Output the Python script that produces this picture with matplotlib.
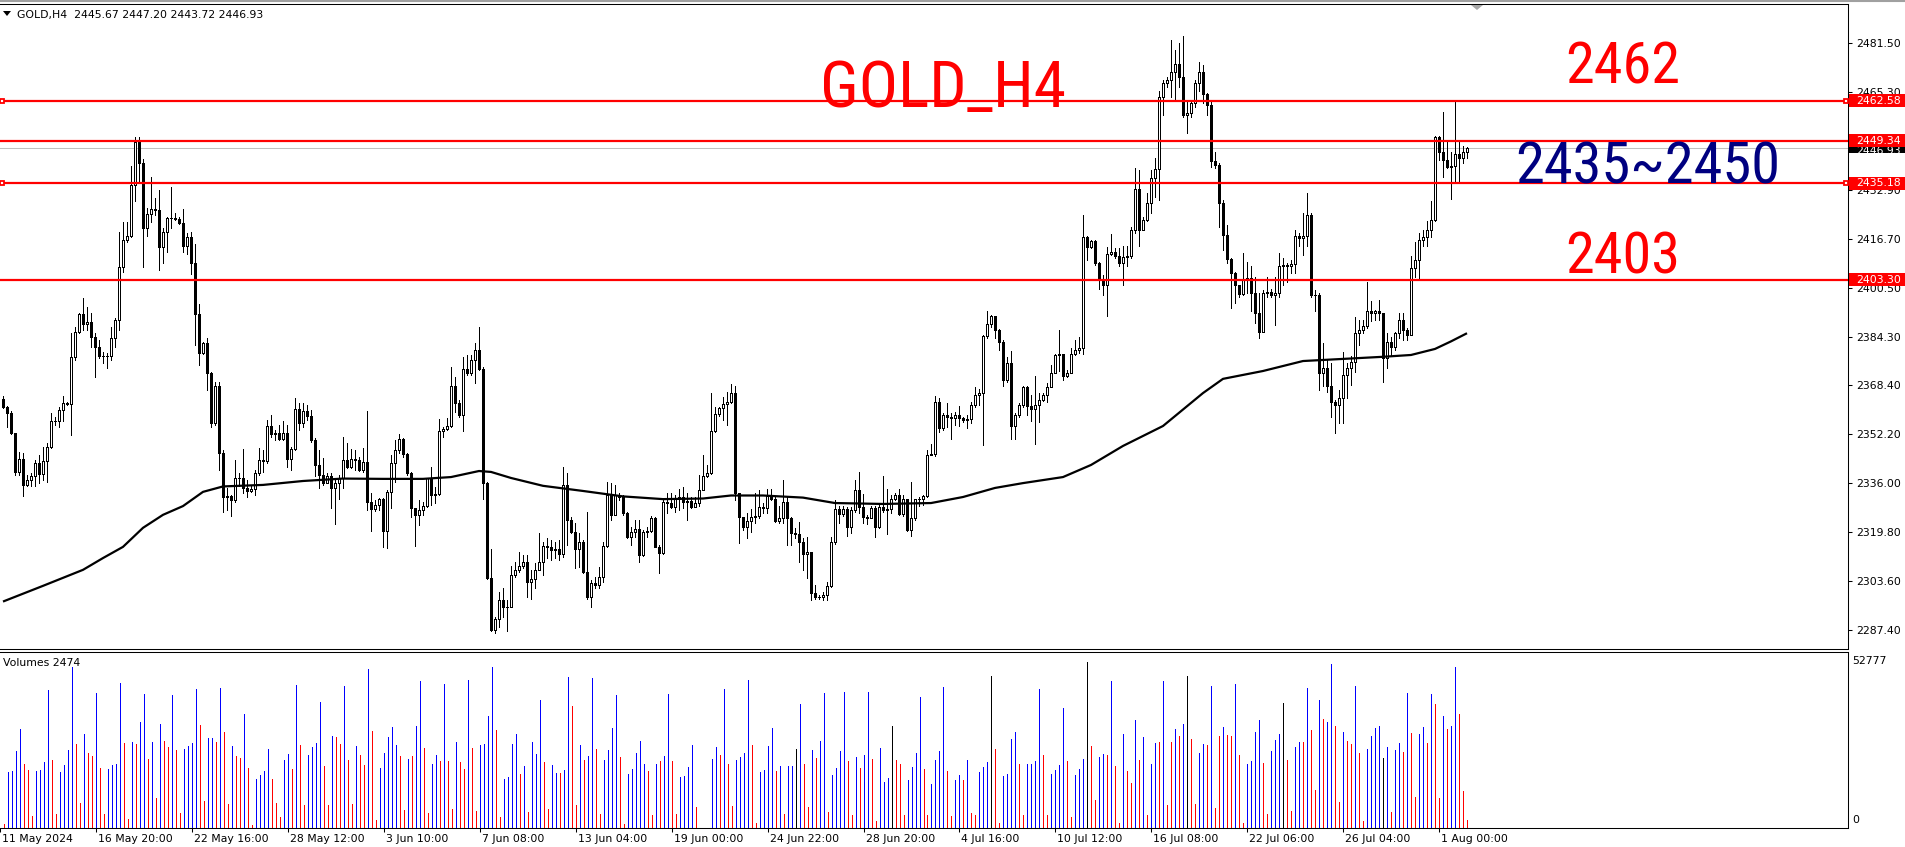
import matplotlib
matplotlib.use("Agg")
import matplotlib.pyplot as plt
import numpy as np
from matplotlib.patches import Rectangle, Polygon
from matplotlib.lines import Line2D
from matplotlib import font_manager as fm
import matplotlib.transforms as mtransforms

W, H = 1905, 847

# ---------------- data ----------------
symbol_header = "GOLD,H4  2445.67 2447.20 2443.72 2446.93"
volume_header = "Volumes 2474"
first_open = 2363.7

close = [
2361.3,2359.1,2352.5,2339.8,2343.9,2335.4,2337.1,2338.2,2342.8,2339.0,
2343.4,2347.9,2356.4,2356.6,2360.2,2362.4,2362.2,2377.6,2386.1,2391.9,
2388.7,2389.3,2384.5,2381.2,2377.9,2378.1,2377.9,2383.9,2390.0,2407.6,
2416.5,2417.8,2434.7,2449.0,2441.8,2420.3,2425.0,2426.6,2426.4,2414.0,
2419.2,2423.6,2423.7,2423.4,2422.0,2414.3,2417.4,2408.8,2392.0,2379.0,
2382.3,2372.4,2356.0,2368.2,2346.1,2331.3,2331.8,2330.4,2337.6,2337.8,
2334.3,2333.5,2334.0,2339.5,2343.7,2343.4,2354.9,2352.2,2352.5,2350.5,
2352.7,2343.9,2347.2,2360.4,2356.0,2359.7,2358.2,2350.3,2342.0,2338.7,
2336.0,2338.4,2334.3,2336.0,2337.6,2343.7,2341.2,2343.9,2343.7,2340.4,
2343.1,2329.6,2327.3,2328.8,2330.7,2320.0,2333.2,2342.6,2347.0,2350.5,
2345.5,2339.2,2327.6,2325.4,2327.1,2328.4,2337.6,2332.0,2332.3,2353.3,
2353.8,2354.9,2368.3,2362.6,2358.5,2373.9,2372.3,2376.7,2380.0,2373.6,
2336.1,2304.5,2287.4,2290.9,2297.3,2295.1,2294.9,2305.6,2307.2,2308.5,
2310.0,2303.4,2304.1,2307.2,2310.0,2315.2,2314.7,2313.8,2314.1,2312.7,
2335.3,2323.8,2319.9,2314.1,2316.6,2306.7,2298.4,2303.0,2302.3,2305.0,
2315.2,2332.0,2325.4,2332.0,2331.5,2326.0,2318.3,2319.9,2320.7,2312.2,
2319.9,2320.2,2324.3,2314.9,2313.0,2329.8,2329.3,2328.0,2330.9,2331.5,
2329.8,2330.2,2328.0,2329.3,2333.7,2338.3,2339.2,2353.3,2358.8,2360.9,
2362.2,2362.9,2365.9,2332.6,2324.9,2321.6,2323.4,2324.9,2325.1,2328.0,
2327.7,2331.7,2330.9,2323.5,2324.6,2329.8,2324.3,2319.4,2319.1,2316.6,
2312.7,2313.3,2299.5,2298.4,2298.2,2298.9,2301.9,2316.6,2327.3,2325.7,
2327.3,2321.6,2327.1,2333.7,2328.2,2324.9,2324.6,2327.6,2321.6,2328.0,
2327.1,2327.3,2330.6,2332.0,2325.7,2330.6,2320.5,2324.3,2330.6,2330.9,
2331.7,2345.3,2345.6,2362.9,2354.1,2358.5,2358.0,2357.7,2358.5,2357.4,
2356.9,2357.1,2361.8,2365.1,2365.7,2384.7,2388.6,2391.3,2386.6,2382.8,
2370.1,2375.6,2354.9,2358.5,2361.8,2367.7,2361.5,2360.4,2361.8,2363.5,
2365.1,2367.9,2372.5,2378.3,2378.7,2371.4,2372.5,2378.7,2380.0,2380.6,
2417.3,2414.2,2416.2,2408.7,2403.7,2401.5,2411.8,2412.6,2411.2,2408.8,
2410.7,2411.0,2419.8,2433.2,2419.8,2423.1,2428.8,2436.9,2439.9,2463.9,
2468.5,2469.4,2472.2,2474.7,2470.3,2457.8,2458.4,2461.7,2468.3,2472.2,
2464.8,2461.2,2442.7,2441.3,2428.8,2418.1,2410.1,2405.5,2401.6,2398.6,
2403.2,2403.8,2398.8,2392.2,2386.1,2398.8,2399.1,2398.4,2398.8,2407.9,
2408.2,2407.7,2408.4,2417.8,2417.0,2417.8,2424.8,2398.3,2398.3,2372.4,
2374.2,2368.0,2363.0,2361.9,2364.1,2371.8,2374.0,2376.2,2385.6,2386.7,
2388.0,2392.8,2392.2,2392.8,2392.2,2377.3,2382.8,2381.2,2385.6,2390.0,
2386.7,2385.0,2407.1,2409.9,2416.5,2417.4,2419.8,2423.1,2450.7,2445.7,
2443.0,2440.7,2441.0,2444.9,2443.5,2445.67,2446.93]

high = [
2364.9,2361.5,2359.7,2352.7,2346.4,2345.9,2338.7,2339.3,2343.7,2345.3,
2348.1,2349.2,2359.3,2358.0,2361.3,2364.9,2363.0,2385.6,2387.8,2392.2,
2397.2,2394.4,2392.2,2385.6,2383.4,2379.5,2379.0,2387.8,2390.6,2419.0,
2422.5,2422.5,2441.0,2450.4,2450.4,2443.2,2427.0,2437.4,2430.3,2433.0,
2420.3,2424.2,2433.9,2425.3,2424.2,2426.6,2418.7,2419.2,2415.1,2395.3,
2382.8,2383.9,2372.9,2369.6,2369.6,2347.0,2334.3,2332.1,2343.7,2339.3,
2347.2,2337.1,2335.1,2340.4,2347.5,2347.0,2356.9,2358.6,2353.6,2355.3,
2356.4,2355.3,2348.1,2364.1,2362.4,2362.4,2361.9,2360.2,2350.8,2347.0,
2344.2,2339.5,2339.3,2337.1,2338.7,2351.4,2349.2,2347.2,2346.8,2344.8,
2347.5,2359.7,2332.6,2330.4,2331.0,2331.0,2333.7,2345.3,2350.3,2352.4,
2350.8,2345.8,2339.6,2327.6,2330.4,2329.8,2337.6,2341.4,2334.8,2357.1,
2354.7,2357.4,2374.5,2371.2,2363.5,2377.8,2378.4,2378.4,2382.2,2387.7,
2374.5,2336.4,2314.1,2291.6,2300.1,2301.2,2297.3,2308.5,2310.0,2313.3,
2312.2,2312.2,2307.2,2309.4,2319.6,2316.6,2317.7,2317.1,2316.6,2317.1,
2341.4,2339.2,2324.9,2322.7,2319.4,2317.1,2326.5,2303.9,2305.0,2308.3,
2316.6,2336.4,2335.9,2335.3,2332.6,2332.0,2326.5,2321.6,2323.8,2323.8,
2320.5,2321.6,2325.1,2324.9,2315.5,2330.4,2332.6,2332.6,2332.0,2334.2,
2334.8,2332.6,2331.3,2331.5,2338.7,2345.3,2342.0,2365.7,2361.3,2361.3,
2364.6,2366.2,2368.8,2368.1,2332.6,2322.7,2326.0,2327.3,2332.6,2333.7,
2329.3,2333.9,2334.2,2331.7,2328.4,2337.0,2331.5,2324.9,2321.0,2323.2,
2317.7,2318.0,2313.3,2302.3,2298.9,2300.0,2303.4,2318.0,2330.4,2328.4,
2328.4,2328.2,2328.2,2337.0,2339.8,2332.4,2325.4,2328.4,2328.4,2329.3,
2338.3,2334.2,2332.0,2332.6,2333.9,2332.0,2330.9,2336.5,2330.9,2331.5,
2332.0,2346.9,2349.1,2364.8,2364.0,2359.1,2362.4,2359.1,2359.6,2361.5,
2358.0,2358.5,2362.9,2367.7,2367.3,2385.0,2392.9,2391.6,2388.8,2386.9,
2383.3,2377.8,2379.7,2359.1,2362.4,2368.1,2368.1,2365.1,2371.4,2365.7,
2365.9,2369.2,2375.1,2378.7,2386.6,2378.7,2373.4,2380.6,2383.3,2384.4,
2424.7,2417.7,2416.6,2416.4,2409.2,2404.8,2414.0,2418.4,2413.7,2413.7,
2414.3,2414.3,2420.9,2440.2,2439.6,2424.2,2431.9,2439.6,2443.5,2465.6,
2469.4,2470.5,2482.7,2479.4,2481.6,2484.0,2462.8,2462.3,2469.4,2475.5,
2474.4,2465.0,2462.3,2445.7,2441.8,2429.7,2421.4,2410.4,2406.0,2399.9,
2412.1,2409.3,2407.7,2404.3,2398.8,2399.9,2404.3,2400.2,2404.3,2412.1,
2410.4,2408.8,2409.9,2419.8,2418.7,2425.3,2431.9,2425.3,2399.9,2398.8,
2382.3,2376.8,2375.7,2363.5,2366.9,2379.5,2375.7,2377.9,2391.1,2390.0,
2390.0,2402.7,2396.1,2393.3,2396.6,2392.2,2385.6,2384.5,2386.1,2392.2,
2392.2,2387.2,2411.0,2415.9,2418.7,2419.8,2422.6,2429.2,2450.9,2450.9,
2458.9,2449.0,2445.7,2462.8,2449.0,2447.6,2447.20]

low = [
2360.8,2354.7,2352.3,2338.7,2338.7,2331.8,2334.9,2334.9,2334.9,2336.0,
2337.1,2336.5,2347.5,2355.3,2354.7,2356.4,2361.9,2352.0,2376.8,2385.6,
2386.7,2386.7,2381.2,2371.0,2377.3,2375.7,2374.0,2376.8,2381.2,2386.7,
2405.7,2415.9,2417.6,2429.2,2435.2,2407.6,2417.8,2422.5,2424.7,2406.5,
2408.7,2412.6,2420.3,2423.1,2421.8,2412.6,2411.8,2405.2,2381.7,2375.1,
2378.8,2366.8,2354.7,2355.3,2340.4,2326.6,2327.1,2325.1,2329.9,2334.9,
2332.6,2331.5,2333.2,2332.1,2338.7,2339.8,2342.6,2351.4,2350.3,2350.3,
2350.3,2341.2,2340.4,2347.0,2353.6,2354.7,2356.9,2349.7,2338.2,2334.3,
2335.4,2336.0,2327.7,2322.5,2330.7,2334.3,2340.9,2340.9,2340.4,2340.1,
2339.8,2327.1,2320.0,2326.9,2327.1,2315.0,2314.4,2327.7,2336.5,2345.8,
2344.7,2338.7,2324.9,2315.3,2322.1,2325.4,2328.2,2328.7,2329.3,2332.0,
2351.3,2353.5,2354.7,2359.6,2358.0,2353.3,2371.7,2371.7,2369.2,2373.4,
2330.6,2304.1,2287.1,2286.3,2288.5,2291.8,2287.1,2294.9,2305.0,2306.7,
2307.8,2298.4,2297.5,2301.2,2307.2,2305.6,2311.1,2310.5,2311.1,2310.5,
2311.6,2315.5,2319.4,2307.8,2308.3,2306.1,2297.8,2295.1,2301.2,2301.2,
2303.4,2314.9,2323.8,2325.4,2330.4,2325.4,2317.7,2315.5,2318.3,2310.0,
2311.8,2318.3,2319.9,2314.7,2306.1,2312.7,2326.0,2327.6,2326.5,2327.1,
2327.6,2323.8,2327.6,2328.0,2328.4,2333.7,2338.1,2339.0,2353.0,2358.2,
2356.9,2355.2,2362.6,2330.4,2316.3,2320.5,2317.7,2319.9,2322.7,2324.6,
2326.0,2326.0,2330.4,2323.2,2322.7,2322.7,2315.5,2315.5,2317.7,2310.0,
2307.2,2304.5,2297.3,2297.5,2297.5,2297.3,2297.3,2301.7,2315.8,2322.7,
2325.1,2318.5,2319.4,2326.5,2326.0,2322.7,2322.4,2324.3,2318.3,2321.3,
2326.5,2319.1,2326.2,2330.4,2325.4,2325.1,2320.2,2318.5,2323.8,2328.4,
2328.7,2331.5,2345.3,2344.9,2353.0,2353.5,2354.7,2350.5,2355.2,2354.9,
2356.3,2354.1,2356.0,2361.3,2361.8,2348.6,2383.9,2387.7,2383.9,2380.0,
2368.1,2369.5,2350.5,2350.5,2357.9,2361.3,2358.5,2356.6,2348.9,2356.3,
2363.3,2362.9,2367.7,2372.3,2373.2,2370.1,2371.2,2372.3,2378.3,2378.9,
2378.7,2409.8,2413.7,2408.1,2400.4,2398.2,2391.3,2411.5,2410.4,2407.7,
2401.6,2407.7,2410.4,2418.7,2414.3,2419.8,2422.6,2425.3,2430.8,2429.7,
2457.8,2467.0,2463.9,2462.8,2467.0,2457.3,2451.8,2457.3,2460.6,2465.6,
2461.7,2457.8,2440.7,2440.2,2420.9,2413.2,2408.8,2393.9,2395.5,2397.7,
2398.3,2398.8,2392.8,2388.9,2383.9,2386.1,2397.7,2397.7,2388.3,2397.7,
2401.6,2402.7,2405.5,2405.5,2414.3,2411.5,2414.3,2397.7,2392.8,2366.9,
2368.0,2366.3,2358.0,2352.5,2355.8,2355.8,2364.1,2368.5,2372.9,2381.7,
2385.6,2387.3,2389.5,2390.0,2390.0,2369.6,2374.0,2377.9,2380.1,2384.0,
2383.4,2383.4,2385.0,2404.3,2403.8,2414.3,2414.3,2417.6,2422.6,2443.0,
2437.4,2440.2,2429.9,2435.8,2436.1,2441.9,2443.72]

# long moving average read at sample bars
ma_bar = [0,10,20,25,30,35,40,45,50,55,65,75,85,95,105,112,119,122,127,135,145,155,
          165,175,182,190,200,208,220,232,240,248,255,265,272,280,290,300,305,315,325,
          335,345,352,358,362,366]
ma_val = [2296.8,2302.0,2307.3,2311.2,2314.9,2321.2,2325.5,2328.4,2333.1,2334.9,2335.4,
          2336.7,2337.5,2337.4,2337.4,2338.0,2340.0,2339.7,2337.7,2335.1,2333.4,2331.6,
          2330.7,2330.9,2331.9,2331.9,2331.2,2329.4,2329.1,2329.4,2331.4,2334.4,2336.0,
          2338.0,2342.0,2348.3,2354.9,2365.8,2370.5,2373.1,2376.4,2377.1,2377.8,2378.4,
          2380.4,2382.9,2385.6]

# tick volumes (thousands): part from the left edge, part ending at the last bar
vol_a = [
1.4,17.7,18.2,24.6,31.6,20.5,18.6,3.9,18.2,18.6,21.1,44.0,21.7,4.6,17.9,20.1,24.9,51.2,26.8,8.1,
30.0,24.0,23.0,43.0,19.2,4.6,18.9,20.1,20.5,46.2,27.1,3.0,27.5,26.8,33.8,42.7,22.0,27.5,9.6,33.2,
27.8,25.9,42.4,24.9,4.9,25.2,26.2,27.1,44.3,32.9,8.7,28.7,28.7,27.5,44.6,30.6,7.7,26.2,23.0,22.4,
36.4,19.2,1.1,15.7,17.0,18.2,25.2,15.7,8.1,3.6,21.7,23.6,18.9,45.6,26.5,7.4,23.3,25.9,27.1,40.2,
19.8,7.4,29.4,29.0,26.8,45.3,21.7,7.7,26.2,23.3,20.1,50.7,31.0,2.7,19.2,24.0,29.0,32.2,26.5,23.0,
5.8,22.0,23.0,32.5,46.9,25.5,4.8,20.5,23.3,21.4,45.9,21.4,6.1,27.5,21.1,18.9,47.2,25.5,5.5,26.5,
26.8,35.7,51.2,31.3,3.6,15.7,16.3,26.8,30.0,17.3,19.8,5.2,27.5,23.6,40.8,21.1,6.1,20.1,17.6,17.6,
18.6,48.1,38.9,7.4,26.5,21.7,23.0,47.8,25.2,4.6,21.7,24.9,31.9,42.4,22.7,1.4,17.3,18.9,24.0,27.8,
20.5,18.2,4.2,20.5,21.4,23.0,42.7,21.4,4.6,16.3,16.6,19.5,26.5,6.8]
col_a = ("rbbbbrrrbb" "bbrrbbbbrr" "brrbrrbbbb" "rrbrbbrbrb" "rrbrrbbbbr" "rbbrbrrbrr"
         "brrbbbbrrr" "bbrbrrbbbb" "rrbrrbrrbr" "rbrrbbbbbr" "rbrbbrrbbr" "brrbrrbrrb"
         "bbbrrbbbbr" "brbbbrrbbr" "bbrrbrbbrr" "bbbbrrbbbb" "brrbrbbrrb" "bbbr")
vol_b = [
22.0,25.9,23.3,44.3,20.5,7.1,21.7,22.7,24.0,47.2,26.5,1.7,17.9,18.6,26.2,31.9,18.2,19.8,4.6,19.8,
19.8,25.2,39.5,20.5,6.8,24.9,22.4,27.8,43.0,5.2,17.0,19.2,24.6,43.4,21.4,4.2,22.7,19.2,23.3,43.4,
22.0,2.3,25.5,14.7,16.0,32.3,21.7,20.5,4.2,15.4,19.5,24.0,41.8,18.9,4.2,14.1,21.7,24.6,44.9,18.2,
3.9,15.4,17.0,15.4,21.7,4.9,4.2,17.9,19.5,21.1,48.4,25.2,1.7,16.6,17.3,28.4,30.6,20.5,4.2,20.5,
20.5,21.4,44.3,23.3,4.2,17.3,18.6,20.1,38.3,21.4,3.6,17.0,18.9,22.0,52.9,26.2,9.0,22.7,23.6,23.3,
46.9,19.8,1.7,29.8,18.2,14.4,34.5,21.7,29.0,4.2,20.5,27.1,27.5,46.9,7.4,27.5,31.6,29.4,33.2,48.4,
28.4,7.7,24.0,26.8,26.5,45.3,6.5,29.4,32.1,29.7,29.4,45.9,23.3,1.7,20.5,21.4,30.6,34.5,20.8,4.6,
24.6,28.1,30.0,39.9,21.7,5.5,25.9,27.5,27.5,44.6,31.3,12.2,40.8,34.8,33.8,52.3,32.5,8.3,30.6,27.8,
26.8,45.3,24.0,2.3,25.2,29.4,31.9,32.5,22.4,25.9,5.2,24.9,27.1,24.3,43.0,30.3,10.0,30.0,32.2,27.1,
42.7,39.5,9.6,35.7,31.6,32.5,51.3,36.4,11.9,2.7]
col_b = ("bbrbrrbbbb" "rrbbbbrbrb" "bkbrrbrbbr" "bbbbrrbrbb" "rrbbbkrrrb" "bbbrrbbbbr"
         "rbbrbrrbbb" "krrbbbbrrb" "bbbrrbbbbr" "rbbbkrrbbr" "brrbrrbrbr" "bbrbrrbrbk"
         "rrbbrbrrbr" "rbrrbbbbrr" "bbbkrrbbrb" "rrbrbbrrbr" "rbrrbbbbkb" "rbbrbrrbbr"
         "brrbrbbrrr")
vol_max_label = "52777"

price_ticks = [2481.50, 2465.30, 2449.10, 2432.90, 2416.70, 2400.50, 2384.30,
               2368.40, 2352.20, 2336.00, 2319.80, 2303.60, 2287.40]
levels = [2462.58, 2449.34, 2435.18, 2403.30]
level_handles = [True, False, True, False]
bid = 2446.93

xlabel_bars = [-1, 23, 47, 71, 95, 119, 143, 167, 191, 215, 239, 263, 287, 311, 335, 359]
xlabels = ["11 May 2024", "16 May 20:00", "22 May 16:00", "28 May 12:00", "3 Jun 10:00",
           "7 Jun 08:00", "13 Jun 04:00", "19 Jun 00:00", "24 Jun 22:00", "28 Jun 20:00",
           "4 Jul 16:00", "10 Jul 12:00", "16 Jul 08:00", "22 Jul 06:00", "26 Jul 04:00",
           "1 Aug 00:00"]

title_text = "GOLD_H4"
note_top = "2462"
note_mid = "2435~2450"
note_low = "2403"

# ---------------- helpers ----------------
def fx(px):
    return px / W

def fy(py):
    return 1 - py / H

def has_font(name):
    try:
        fm.findfont(fm.FontProperties(family=name), fallback_to_default=False)
        return True
    except Exception:
        return False

big_family = "Liberation Sans"
for cand in ["Liberation Sans Narrow", "Arial Narrow", "Roboto Condensed", "PT Sans Narrow",
             "Archivo Narrow", "Liberation Sans"]:
    if has_font(cand):
        big_family = cand
        break

small = 7.8
LW = 0.75

fig = plt.figure(figsize=(W / 100, H / 100), dpi=100)
fig.patch.set_facecolor("white")

# main price panel
ax = fig.add_axes([0, fy(649), fx(1848), (649 - 4) / H])
x0 = -0.75
x1 = x0 + 1848 / 4
ax.set_xlim(x0, x1)
ax.set_ylim(2281.1, 2494.55)
for s in ["top", "right", "bottom"]:
    ax.spines[s].set_linewidth(LW)
    ax.spines[s].set_color("black")
ax.spines["left"].set_visible(False)
ax.set_xticks([])
ax.yaxis.tick_right()
ax.set_yticks(price_ticks)
ax.set_yticklabels([f"{v:.2f}" for v in price_ticks])
ax.tick_params(axis="y", length=2.9, width=LW, pad=2.9, labelsize=small, colors="black")

n = len(close)
idx = np.arange(n)
c = np.array(close)
o = np.concatenate([[first_open], c[:-1]])
h = np.maximum.reduce([np.array(high), o, c])
l = np.minimum.reduce([np.array(low), o, c])

ax.axhline(bid, color="#c0c0c0", lw=LW, zorder=1)
ax.vlines(idx, l, h, color="black", lw=0.55, zorder=2, antialiased=False)
up = c >= o
bottom = np.minimum(o, c)
height = np.maximum(np.abs(c - o), 0.05)
ax.bar(idx[up], height[up], bottom=bottom[up], width=0.55, facecolor="white",
       edgecolor="black", linewidth=0.55, zorder=3, antialiased=False)
ax.bar(idx[~up], height[~up], bottom=bottom[~up], width=0.55, facecolor="black",
       edgecolor="black", linewidth=0.55, zorder=3, antialiased=False)

ax.plot(ma_bar, ma_val, color="black", lw=1.6, zorder=4, solid_capstyle="butt")

for p, hd in zip(levels, level_handles):
    ax.axhline(p, color="#ff0000", lw=1.6, zorder=5)
    if hd:
        ax.plot([x0 + 0.6, x1 - 0.6], [p, p], linestyle="none", marker="s", ms=3.4,
                mfc="white", mec="#ff0000", mew=1.3, zorder=6, clip_on=False)

# volume panel
vax = fig.add_axes([0, fy(828), fx(1848), (828 - 652) / H])
vax.set_xlim(x0, x1)
vax.set_ylim(0, 56.0)
for s in ["top", "right", "bottom"]:
    vax.spines[s].set_linewidth(LW)
    vax.spines[s].set_color("black")
vax.spines["left"].set_visible(False)
vax.set_yticks([])
vax.set_xticks(xlabel_bars)
vax.set_xticklabels([])
vax.tick_params(axis="x", length=2.9, width=LW, colors="black")

cmap = {"b": "#0000ff", "r": "#ff0000", "k": "#000000"}
xa = np.arange(len(vol_a))
xb = np.arange(n - len(vol_b), n)
vax.vlines(xa, 0, vol_a, colors=[cmap[k] for k in col_a], lw=0.55, antialiased=False)
vax.vlines(xb, 0, vol_b, colors=[cmap[k] for k in col_b], lw=0.55, antialiased=False)

trans = mtransforms.blended_transform_factory(vax.transData, fig.transFigure)
for b, lab in zip(xlabel_bars, xlabels):
    t = mtransforms.offset_copy(trans, fig=fig, x=2, y=0, units="dots")
    fig.text(b, fy(839), lab, transform=t, ha="left", va="center", fontsize=small,
             family="DejaVu Sans", color="black")

fig.text(fx(1852), fy(661), vol_max_label, ha="left", va="center", fontsize=small, color="black")
fig.text(fx(1852), fy(820), "0", ha="left", va="center", fontsize=small, color="black")
fig.text(fx(3), fy(663), volume_header, ha="left", va="center", fontsize=small, color="black")

# header
fig.add_artist(Line2D([0, 1], [fy(1), fy(1)], color="#a0a0a0", lw=1.5))
fig.add_artist(Polygon([[fx(3), fy(11)], [fx(11), fy(11)], [fx(7), fy(16)]],
                       closed=True, facecolor="black", edgecolor="none",
                       transform=fig.transFigure))
fig.text(fx(17), fy(15), symbol_header, ha="left", va="center", fontsize=small, color="black")
# chart shift marker
fig.add_artist(Polygon([[fx(1471), fy(5)], [fx(1483), fy(5)], [fx(1477), fy(10)]],
                       closed=True, facecolor="#a8a8a8", edgecolor="none",
                       transform=fig.transFigure))

# price label boxes on the right axis
def ylev(p):
    return 630 - (p - 2287.4) * 3.022

def label_box(p, fc, txt):
    yc = ylev(p)
    fig.add_artist(Rectangle((fx(1849), fy(yc + 6.7)), fx(1905) - fx(1849), 13.4 / H,
                             facecolor=fc, edgecolor="none", transform=fig.transFigure,
                             zorder=5))
    fig.text(fx(1856), fy(yc), txt, ha="left", va="center", fontsize=small,
             color="white", zorder=6)

# bid label: mostly hidden under the 2449.34 box, only its lower strip shows
yb = ylev(bid)
fig.add_artist(Rectangle((fx(1849), fy(yb + 5.2)), fx(1905) - fx(1849), 12 / H,
                         facecolor="black", edgecolor="none", transform=fig.transFigure,
                         zorder=4))
tb = fig.text(fx(1856), fy(yb + 3.2), f"{bid:.2f}", ha="left", va="center", fontsize=small,
              color="white", zorder=4.5)
tb.set_clip_box(mtransforms.Bbox.from_extents(1849, H - (yb + 5.2), W, H - (ylev(levels[1]) + 6.7)))
tb.set_clip_on(True)

for p in levels:
    label_box(p, "#ff0000", f"{p:.2f}")

# large annotations, sized to the reference widths
renderer = fig.canvas.get_renderer()
def big_text(cx, base, txt, color, target_w):
    t = fig.text(fx(cx), fy(base), txt, ha="center", va="baseline", fontsize=40,
                 family=big_family, color=color)
    w = t.get_window_extent(renderer=renderer).width
    t.set_fontsize(40 * target_w / w)
    return t

big_text(943, 107, title_text, "#ff0000", 246)
big_text(1623, 83, note_top, "#ff0000", 115)
big_text(1648, 183, note_mid, "#000080", 265)
big_text(1623, 273, note_low, "#ff0000", 115)

fig.savefig("out.png", dpi=100, facecolor="white")
